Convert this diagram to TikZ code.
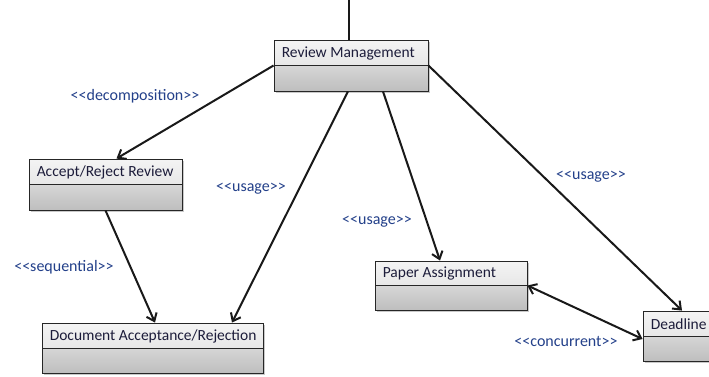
\documentclass[tikz,border=0pt]{standalone}
\usepackage{fontspec}
\setmainfont{Carlito}
\usetikzlibrary{arrows.meta,shadows,calc}

\definecolor{boxtxt}{HTML}{1C1C3A}
\definecolor{stereo}{HTML}{23408A}
\definecolor{upperA}{HTML}{F4F4F4}
\definecolor{upperB}{HTML}{DADADA}
\definecolor{lowerA}{HTML}{D6D6D6}
\definecolor{lowerB}{HTML}{BEBEBE}

\tikzset{
  classbox/.style={
    draw=black!85, line width=0.9pt, rectangle, inner sep=0pt,
    drop shadow={shadow xshift=1.5pt, shadow yshift=-1.5pt, opacity=0.35, fill=black!60},
    path picture={
      \shade[top color=upperA, bottom color=upperB]
        (path picture bounding box.north west) rectangle (path picture bounding box.east);
      \shade[top color=lowerA, bottom color=lowerB]
        (path picture bounding box.west) rectangle (path picture bounding box.south east);
      \draw[black!85, line width=0.9pt]
        (path picture bounding box.west) -- (path picture bounding box.east);
    }
  },
  boxlabel/.style={anchor=west, inner sep=0pt, text=boxtxt, font=\fontsize{15.5}{17}\selectfont},
  stereotype/.style={inner sep=0pt, text=stereo, font=\fontsize{16}{18}\selectfont},
  link/.style={line width=2pt, black!90, -{Straight Barb[length=7pt, width=11pt, line width=2pt]}},
  biLink/.style={line width=2pt, black!90, {Straight Barb[length=7pt, width=11pt, line width=2pt]}-{Straight Barb[length=7pt, width=11pt, line width=2pt]}}
}

\begin{document}
\begin{tikzpicture}[x=1pt, y=-1pt]
  \useasboundingbox[fill=white] (0,0) rectangle (709,376);

  % classes
  \node[classbox, minimum width=154pt, minimum height=51pt] (rm) at (351,65.5) {};
  \node[boxlabel] (rmt) at ($(rm.west)+(8,-12)$) {Review Management};

  \node[classbox, minimum width=153pt, minimum height=51pt] (ar) at (105.5,184.5) {};
  \node[boxlabel] (art) at ($(ar.west)+(8,-12)$) {Accept/Reject Review};

  \node[classbox, minimum width=221pt, minimum height=50pt] (doc) at (152.5,348) {};
  \node[boxlabel] (doct) at ($(doc.west)+(8,-12)$) {Document Acceptance/Rejection};

  \node[classbox, minimum width=152pt, minimum height=49pt] (pa) at (451,285.5) {};
  \node[boxlabel] (pat) at ($(pa.west)+(8,-12)$) {Paper Assignment};

  \node[classbox, minimum width=74pt, minimum height=50pt] (dl) at (680,336) {};
  \node[boxlabel] (dlt) at ($(dl.west)+(8,-12)$) {Deadline};

  % incoming line from above
  \coordinate (top) at (349,0);
  \draw[line width=2pt, black!90] (top) -- (top |- rm.north);

  % relations
  \draw[link] (rm.west) -- ([xshift=11pt]ar.north);
  \draw[link] (ar.south) -- ([xshift=2.5pt]doc.north);
  \draw[link] ([xshift=-3pt]rm.south) -- ([xshift=79.5pt]doc.north);
  \draw[link] ([xshift=32pt]rm.south) -- ([xshift=-11pt]pa.north);
  \draw[link] (rm.east) -- ([xshift=2pt]dl.north);
  \draw[biLink] (pa.east) -- ([yshift=-3pt]dl.west);

  % stereotypes
  \node[stereotype] (s1) at (135,96) {<{}<decomposition>{}>};
  \node[stereotype] (s2) at (64,267) {<{}<sequential>{}>};
  \node[stereotype] (s3) at (251,189) {<{}<usage>{}>};
  \node[stereotype] (s4) at (377,222) {<{}<usage>{}>};
  \node[stereotype] (s5) at (591,177) {<{}<usage>{}>};
  \node[stereotype] (s6) at (566,341) {<{}<concurrent>{}>};
\end{tikzpicture}
\end{document}
